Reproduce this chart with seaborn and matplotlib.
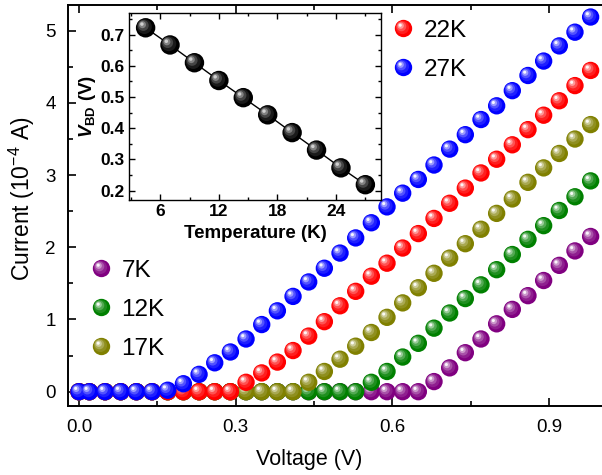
import matplotlib
matplotlib.use('Agg')
import matplotlib.pyplot as plt
import seaborn as sns
import numpy as np
from matplotlib.path import Path
from matplotlib.markers import MarkerStyle
from matplotlib.lines import Line2D
from matplotlib.legend_handler import HandlerTuple
from matplotlib.ticker import MultipleLocator, FormatStrFormatter
from matplotlib.colors import to_rgb

# I-V curves at several temperatures
voltage = [0.0, 0.02, 0.05, 0.08, 0.11, 0.14, 0.17, 0.20, 0.23, 0.26, 0.29, 0.32,
           0.35, 0.38, 0.41, 0.44, 0.47, 0.50, 0.53, 0.56, 0.59, 0.62, 0.65, 0.68,
           0.71, 0.74, 0.77, 0.80, 0.83, 0.86, 0.89, 0.92, 0.95, 0.98]
current_7K = [0, 0, 0, 0, 0, 0, 0, 0, 0, 0, 0, 0, 0, 0, 0, 0, 0, 0, 0, 0, 0, 0, 0,
              0.14, 0.33, 0.54, 0.73, 0.94, 1.14, 1.33, 1.54, 1.75, 1.95, 2.15]
current_12K = [0, 0, 0, 0, 0, 0, 0, 0, 0, 0, 0, 0, 0, 0, 0, 0, 0, 0, 0,
               0.13, 0.28, 0.48, 0.67, 0.88, 1.09, 1.29, 1.48, 1.69, 1.90, 2.11,
               2.30, 2.51, 2.70, 2.92]
current_17K = [0, 0, 0, 0, 0, 0, 0, 0, 0, 0, 0, 0, 0, 0, 0,
               0.13, 0.28, 0.45, 0.63, 0.82, 1.03, 1.23, 1.44, 1.64, 1.85, 2.05,
               2.25, 2.47, 2.67, 2.90, 3.10, 3.30, 3.50, 3.70]
current_22K = [0, 0, 0, 0, 0, 0, 0, 0, 0, 0, 0,
               0.13, 0.26, 0.41, 0.57, 0.77, 0.97, 1.19, 1.39, 1.60, 1.78, 1.99,
               2.19, 2.40, 2.61, 2.82, 3.03, 3.22, 3.42, 3.63, 3.83, 4.03, 4.24, 4.45]
current_27K = [0, 0, 0, 0, 0, 0, 0.02,
               0.11, 0.24, 0.40, 0.55, 0.73, 0.93, 1.12, 1.32, 1.52, 1.71, 1.92,
               2.13, 2.34, 2.56, 2.75, 2.94, 3.14, 3.36, 3.56, 3.77, 3.96, 4.17,
               4.38, 4.58, 4.79, 4.98, 5.19]

series_labels = ['7K', '12K', '17K', '22K', '27K']
series_colors = ['#800080', '#008000', '#808000', '#ff0000', '#0000ff']
series_values = [current_7K, current_12K, current_17K, current_22K, current_27K]

# inset: breakdown voltage vs temperature
temperature = [4.5, 7, 9.5, 12, 14.5, 17, 19.5, 22, 24.5, 27]
v_bd = [0.722, 0.667, 0.610, 0.553, 0.498, 0.443, 0.386, 0.330, 0.273, 0.219]

sns.set_style('ticks')
plt.rcParams['font.family'] = ['Liberation Sans', 'DejaVu Sans']
plt.rcParams['mathtext.fontset'] = 'custom'
plt.rcParams['mathtext.rm'] = 'Liberation Sans'
plt.rcParams['mathtext.it'] = 'Liberation Sans:italic:bold'
plt.rcParams['mathtext.bf'] = 'Liberation Sans:bold'
for key in ['text.color', 'axes.labelcolor', 'axes.edgecolor', 'xtick.color', 'ytick.color']:
    plt.rcParams[key] = 'black'


# highlight layers for the "ball" look: (offset, radius, whiteness)
GLOSS = [(0.06, 0.38, 0.12), (0.12, 0.28, 0.32), (0.16, 0.18, 0.60), (0.19, 0.09, 0.96)]


def sphere_layers(color, diam, gloss_scale=1.0):
    base = np.array(to_rgb(color))
    layers = [('o', diam, tuple(base))]
    for a, r, w in GLOSS:
        p = Path.circle(center=(-a, a), radius=r)
        m = diam * np.max(np.abs(p.vertices)) / 0.5
        c = base + (1 - base) * min(1.0, w * gloss_scale)
        layers.append((MarkerStyle(p), m, tuple(c)))
    return layers


def draw_spheres(ax, x, y, color, diam, z, gloss_scale=1.0):
    for i, (mk, m, c) in enumerate(sphere_layers(color, diam, gloss_scale)):
        sns.scatterplot(x=x, y=y, ax=ax, marker=mk, s=m ** 2, color=c,
                        edgecolor='none', linewidth=0, zorder=z + i * 0.01)


def legend_handle(color, diam):
    return tuple(Line2D([], [], ls='none', marker=mk, markersize=m, color=c,
                        markeredgewidth=0)
                 for mk, m, c in sphere_layers(color, diam))


fig = plt.figure(figsize=(6.02, 4.75), dpi=100)
ax = fig.add_axes([0.113, 0.145, 0.895, 0.845])

D = 12.5
for k, (lab, col, vals) in enumerate(zip(series_labels, series_colors, series_values)):
    draw_spheres(ax, voltage, vals, col, D, 3 + k)

ax.set_xlim(-0.021, 1.011)
ax.set_ylim(-0.2, 5.36)
ax.xaxis.set_major_locator(MultipleLocator(0.3))
ax.xaxis.set_minor_locator(MultipleLocator(0.15))
ax.yaxis.set_major_locator(MultipleLocator(1))
ax.yaxis.set_minor_locator(MultipleLocator(0.5))
ax.xaxis.set_major_formatter(FormatStrFormatter('%.1f'))
ax.tick_params(which='both', direction='in', top=True, right=False, width=1.2,
               labelsize=13.5, pad=9)
ax.tick_params(which='major', length=6)
ax.tick_params(which='minor', length=3.5)
for s in ax.spines.values():
    s.set_linewidth(1.4)
ax.spines['right'].set_visible(False)
ax.set_xlabel('Voltage (V)', fontsize=15.5)
ax.set_ylabel('Current (10$^{-4}$ A)', fontsize=16.5)
ax.xaxis.set_label_coords(0.448, -0.108)
ax.yaxis.set_label_coords(-0.057, 0.516)

h = {lab: legend_handle(col, D) for lab, col in zip(series_labels, series_colors)}
leg_kw = dict(loc='upper left', bbox_transform=fig.transFigure, frameon=False,
              fontsize=17.5, handlelength=0.8, handletextpad=0.45,
              labelspacing=0.7, borderaxespad=0,
              handler_map={tuple: HandlerTuple(ndivide=1)})
leg1 = ax.legend([h['22K'], h['27K']], ['22K', '27K'],
                 bbox_to_anchor=(0.637, 0.979), **leg_kw)
ax.add_artist(leg1)
ax.legend([h['7K'], h['12K'], h['17K']], ['7K', '12K', '17K'],
          bbox_to_anchor=(0.135, 0.474), **leg_kw)

# inset
ins = fig.add_axes([0.2143, 0.579, 0.4186, 0.394])
sns.lineplot(x=temperature, y=v_bd, ax=ins, color='black', linewidth=1.0, zorder=2)
draw_spheres(ins, temperature, v_bd, '#000000', 14, 3, gloss_scale=0.85)
ins.set_xlim(2.8, 28.6)
ins.set_ylim(0.17, 0.77)
ins.xaxis.set_major_locator(MultipleLocator(6))
ins.xaxis.set_minor_locator(MultipleLocator(3))
ins.yaxis.set_major_locator(MultipleLocator(0.1))
ins.yaxis.set_minor_locator(MultipleLocator(0.05))
ins.tick_params(which='both', direction='in', top=True, right=True, width=1.0,
                labelsize=12.5, pad=3)
ins.tick_params(which='major', length=4)
ins.tick_params(which='minor', length=2.5)
for lbl in ins.get_xticklabels() + ins.get_yticklabels():
    lbl.set_fontweight('bold')
for s in ins.spines.values():
    s.set_linewidth(1.0)
ins.set_xlabel('Temperature (K)', fontsize=13.5, fontweight='bold', labelpad=4)
ins.set_ylabel(r'$\it{V}_{\bf{BD}}$ (V)', fontsize=13.5, fontweight='bold', labelpad=2)

fig.savefig('out.png', dpi=100)
